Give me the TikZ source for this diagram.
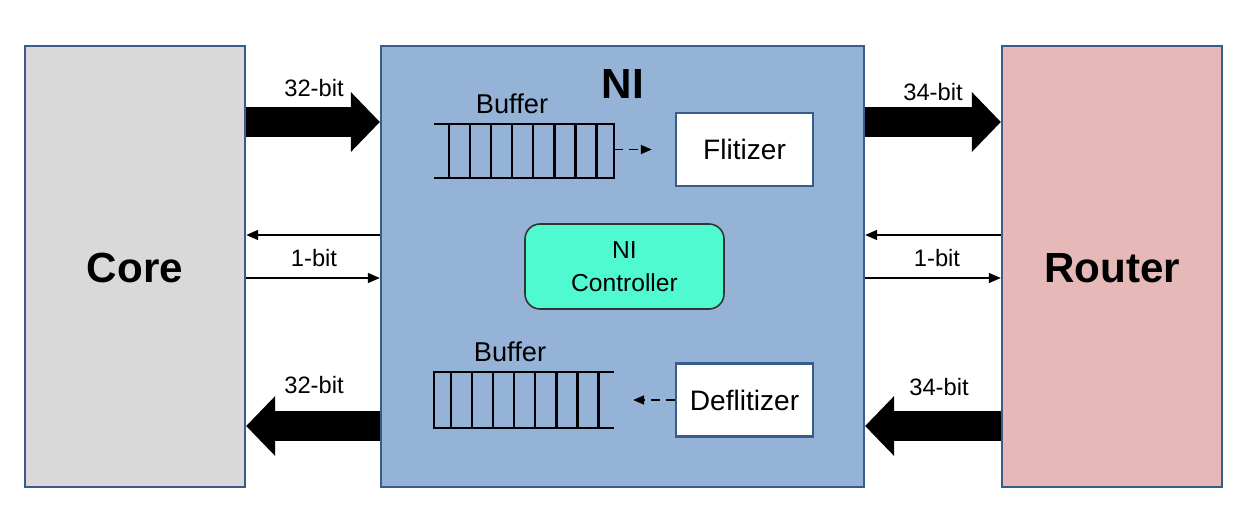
\documentclass[tikz,border=0pt]{standalone}
\usepackage{fontspec}
\setmainfont{Liberation Sans}
\usetikzlibrary{arrows.meta}
\usetikzlibrary{calc}
\definecolor{gray1}{RGB}{217, 217, 217}
\definecolor{blue1}{RGB}{149, 179, 215}
\definecolor{blue2}{RGB}{56, 93, 138}
\definecolor{red1}{RGB}{230, 185, 184}
\definecolor{green1}{RGB}{80, 250, 208}

\begin{document}
\begin{tikzpicture}[x=0.02cm, y=-0.02cm, line width=1.3pt,
  block/.style={rectangle, draw=blue2, line width=1.4pt, minimum width=4.4cm, minimum height=8.82cm, inner sep=0pt},
  unit/.style={rectangle, draw=blue2, fill=white, line width=1.4pt, minimum width=2.74cm, minimum height=1.46cm, font=\fontsize{16}{19}\selectfont},
  bus/.style={line width=0.6cm, -{Triangle[length=0.58cm,width=1.2cm,line width=0pt]}},
  wire/.style={line width=0.9pt, -{Triangle[length=0.24cm,width=0.2cm]}},
  hint/.style={line width=1pt, dash pattern=on 0.18cm off 0.12cm, -{Triangle[length=0.22cm,width=0.18cm]}},
  lbl/.style={font=\fontsize{13.5}{16}\selectfont},
  bufbox/.style={rectangle, minimum width=3.56cm, minimum height=1.04cm, inner sep=0pt}]
  \useasboundingbox (0,0) rectangle (1248,530);

  \node[block, fill=gray1] (core) at (135,266.5) {};
  \node[block, fill=blue1, minimum width=9.66cm] (ni) at (622.5,266.5) {};
  \node[block, fill=red1] (router) at (1112,266.5) {};

  \node[font=\fontsize{24}{28}\selectfont\bfseries] (coreT) at (135,268) {Core};
  \node[font=\fontsize{24}{28}\selectfont\bfseries] (routerT) at (1112,268) {Router};
  \node[font=\fontsize{24}{28}\selectfont\bfseries] (niT) at (623,84) {NI};

  % buffers
  \node[bufbox] (bufTop) at (524,151) {};
  \node[bufbox, minimum height=1.08cm] (bufBot) at (524,400) {};
  \draw (bufTop.north west) -- (bufTop.north east) -- (bufTop.south east) -- (bufTop.south west);
  \draw (bufBot.north east) -- (bufBot.north west) -- (bufBot.south west) -- (bufBot.south east);
  \foreach \k in {0,...,7} {
    \draw ($(bufTop.north west)+(15+21.1*\k,0)$) -- ($(bufTop.south west)+(15+21.1*\k,0)$);
    \draw ($(bufBot.north west)+(17+21.1*\k,0)$) -- ($(bufBot.south west)+(17+21.1*\k,0)$);
  }
  \node[font=\fontsize{15.5}{18}\selectfont] (bufTopT) at (512,104) {Buffer};
  \node[font=\fontsize{15.5}{18}\selectfont] (bufBotT) at (510,352) {Buffer};

  \node[unit] (flit) at (744.5,149.5) {Flitizer};
  \node[unit] (defl) at (744.5,400) {Deflitizer};
  \node[rectangle, rounded corners=0.3cm, draw=black!80, line width=0.9pt, fill=green1, minimum width=3.98cm, minimum height=1.7cm, align=center, font=\fontsize{14}{19}\selectfont] (ctrl) at (624.5,266.5) {NI\\Controller};

  \draw[hint, shorten >=0.46cm] (bufTop.east |- flit.west) -- (flit.west);
  \draw[hint, shorten >=0.38cm] (defl.west) -- (bufBot.east |- defl.west);

  % links
  \draw[bus] (core.east |- 0,122) -- (ni.west |- 0,122);
  \draw[bus] (ni.east |- 0,122) -- (router.west |- 0,122);
  \draw[bus] (ni.west |- 0,426) -- (core.east |- 0,426);
  \draw[bus] (router.west |- 0,426) -- (ni.east |- 0,426);
  \foreach \from/\to in {ni/core, router/ni}
    \draw[wire] (\from.west |- 0,235) -- (\to.east |- 0,235);
  \foreach \from/\to in {core/ni, ni/router}
    \draw[wire] (\from.east |- 0,278) -- (\to.west |- 0,278);

  \node[lbl] (l1) at (314,88) {32-bit};
  \node[lbl] (l2) at (933,92) {34-bit};
  \node[lbl] (l3) at (314,385) {32-bit};
  \node[lbl] (l4) at (939,387) {34-bit};
  \node[lbl] (l5) at (314,258) {1-bit};
  \node[lbl] (l6) at (937,258) {1-bit};
\end{tikzpicture}
\end{document}
